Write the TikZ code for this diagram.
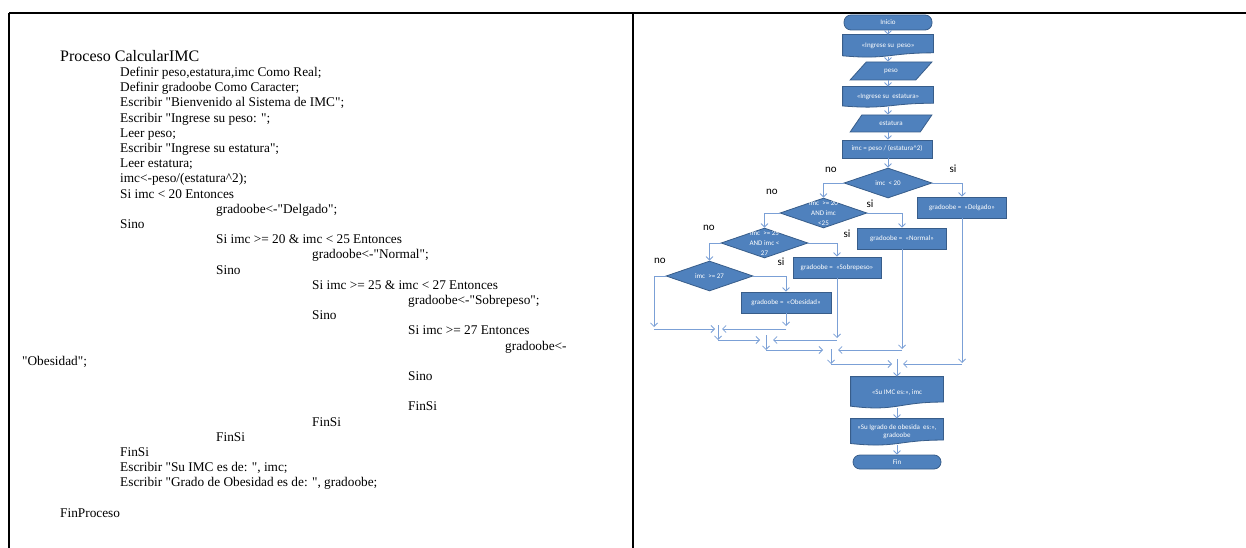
\documentclass[tikz,border=0pt]{standalone}
\usepackage{fontspec}
\setmainfont{Liberation Serif}
\newfontfamily\calibri{Carlito}
\usepackage{tikz}
\usetikzlibrary{arrows.meta,positioning,calc,shapes.geometric,backgrounds}
\definecolor{fcblue}{HTML}{4F81BD}
\definecolor{fcedge}{HTML}{385D8A}
\definecolor{fcline}{HTML}{7BA0D6}
\newcommand{\dq}{\textquotedbl}
% document symbol drawn behind a node
\newcommand{\docshape}[1]{%
  \filldraw[draw=fcedge, fill=fcblue, line width=0.8pt]
    (#1.north west) -- (#1.north east)
    -- ($(#1.north east)!0.80!(#1.south east)$)
    .. controls ($(#1.north)!0.80!(#1.south)$) and ($(#1.north)!1.11!(#1.south)$)
    .. ($(#1.north west)!0.93!(#1.south west)$) -- cycle;}

\begin{document}
\begin{tikzpicture}[x=1pt,y=-1pt,>={Straight Barb[length=3.5pt,width=7pt]},
  box/.style={draw=fcedge, fill=fcblue, line width=0.8pt, text=white,
    font=\calibri\fontsize{7}{8}\selectfont, align=center, inner sep=1pt,
    minimum width=90pt, minimum height=21pt},
  term/.style={box, rounded corners=7pt, minimum width=88pt, minimum height=15pt},
  docbox/.style={box, draw=none, fill=none},
  iobox/.style={box, trapezium, trapezium left angle=52, trapezium right angle=128,
    trapezium stretches=true, minimum width=82pt, minimum height=18pt},
  dec/.style={box, diamond, inner sep=0pt, minimum width=87pt, minimum height=30pt},
  dectext/.style={text=white, font=\calibri\fontsize{7}{10}\selectfont,
    align=center, inner sep=0pt},
  lab/.style={font=\calibri\fontsize{11}{12}\selectfont},
  code/.style={font=\fontsize{13.3}{15.2}\selectfont, align=left, inner sep=0pt},
  arr/.style={->, draw=fcline, line width=0.8pt},
  frame/.style={line width=1.6pt}]

\useasboundingbox (0,0) rectangle (1246,548);

% Table frame
\draw[frame] (9,13) -- (1246,13);
\draw[frame] (9,13) -- (9,548);
\draw[frame] (633,13) -- (633,548);

% Pseudocode
\node[code, anchor=north west] (pseudo) at (22,50) {%
\hspace*{38pt}{\fontsize{16}{15.2}\selectfont Proceso CalcularIMC}\\
\hspace*{98pt}Definir peso,estatura,imc Como Real;\\
\hspace*{98pt}Definir gradoobe Como Caracter;\\
\hspace*{98pt}Escribir \dq Bienvenido al Sistema de IMC\dq;\\
\hspace*{98pt}Escribir \dq Ingrese su peso: \dq;\\
\hspace*{98pt}Leer peso;\\
\hspace*{98pt}Escribir \dq Ingrese su estatura\dq;\\
\hspace*{98pt}Leer estatura;\\
\hspace*{98pt}imc<-peso/(estatura\textasciicircum 2);\\
\hspace*{98pt}Si imc < 20 Entonces\\
\hspace*{194pt}gradoobe<-\dq Delgado\dq;\\
\hspace*{98pt}Sino\\
\hspace*{194pt}Si imc >= 20 \& imc < 25 Entonces\\
\hspace*{290pt}gradoobe<-\dq Normal\dq;\\
\hspace*{194pt}Sino\\
\hspace*{290pt}Si imc >= 25 \& imc < 27 Entonces\\
\hspace*{386pt}gradoobe<-\dq Sobrepeso\dq;\\
\hspace*{290pt}Sino\\
\hspace*{386pt}Si imc >= 27 Entonces\\
\hspace*{483pt}gradoobe<-\\
\dq Obesidad\dq;\\
\hspace*{386pt}Sino\\[15.2pt]
\hspace*{386pt}FinSi\\
\hspace*{290pt}FinSi\\
\hspace*{194pt}FinSi\\
\hspace*{98pt}FinSi\\
\hspace*{98pt}Escribir \dq Su IMC es de: \dq, imc;\\
\hspace*{98pt}Escribir \dq Grado de Obesidad es de: \dq, gradoobe;\\[15.2pt]
\hspace*{38pt}FinProceso};

% Flowchart nodes
\node[term] (inicio) at (888,22.5) {Inicio};
\node[docbox, minimum height=22pt] (ingpeso) at (888,46) {«Ingrese su\ \ peso»};
\node[iobox] (peso) at (891,71) {peso};
\node[docbox, minimum height=20pt] (ingest) at (888,97) {«Ingrese su\ \ estatura»};
\node[iobox, minimum height=17pt] (est) at (891,123.5) {estatura};
\node[box, minimum height=18pt] (calc) at (887,149) {imc = peso / (estatura\textasciicircum 2)};

\node[dec, minimum width=88pt] (d1) at (888,183) {};
\node[dectext] (d1t) at (d1) {imc\ \ < 20};
\node[dec] (d2) at (823.5,213) {};
\node[dectext] (d2t) at (d2) {imc\ \ >= 20\\AND imc\\<25};
\node[dec] (d3) at (764.5,243) {};
\node[dectext] (d3t) at (d3) {imc\ \ >= 25\\AND imc <\\27};
\node[dec] (d4) at (709.5,276) {};
\node[dectext] (d4t) at (d4) {imc\ \ >= 27};

\node[box, minimum width=89pt] (delgado) at (962,207.5) {gradoobe =\ \ «Delgado»};
\node[box, minimum width=89pt] (normal) at (902,238.5) {gradoobe =\ \ «Normal»};
\node[box, minimum width=88pt] (sobre) at (837,267.5) {gradoobe =\ \ «Sobrepeso»};
\node[box, minimum width=90pt] (obes) at (786,302.5) {gradoobe =\ \ «Obesidad»};

\node[docbox, minimum width=92pt, minimum height=31pt] (suimc) at (897,392.5) {«Su IMC es:», imc};
\node[docbox, minimum width=92pt, minimum height=26pt] (grado) at (897,432) {«Su Igrado de obesida\ \ es:»,\\gradoobe};
\node[term, minimum height=14pt] (fin) at (897,462) {Fin};

% Branch labels
\node[lab] (no1) at (831,170) {no};
\node[lab] (si1) at (953,169) {si};
\node[lab] (no2) at (772,192) {no};
\node[lab] (si2) at (870,204) {si};
\node[lab] (no3) at (709,228) {no};
\node[lab] (si3) at (847,234) {si};
\node[lab] (no4) at (660,261) {no};
\node[lab] (si4) at (781,262) {si};

% Document symbols
\begin{scope}[on background layer]
\docshape{ingpeso}
\docshape{ingest}
\docshape{suimc}
\docshape{grado}
\end{scope}

% Merge points
\coordinate (m1l) at (654,329);
\coordinate (m1c) at (718,329);
\coordinate (m1r) at (786,329);
\coordinate (m2l) at (718,340);
\coordinate (m2c) at (766,340);
\coordinate (m2r) at (837,340);
\coordinate (m3l) at (766,350);
\coordinate (m3c) at (831,350);
\coordinate (m3r) at (902,350);
\coordinate (m4l) at (831,364);
\coordinate (m4c) at (897,364);
\coordinate (m4r) at (962,364);

% Main column
\draw[arr] (inicio) -- (ingpeso);
\draw[arr] (ingpeso) -- (ingpeso |- peso.north);
\draw[arr] (ingpeso |- peso.south) -- (ingest);
\draw[arr] (ingest) -- (ingest |- est.north);
\draw[arr] (ingest |- est.south) -- (calc.north -| ingest);
\draw[arr] (calc.south -| d1) -- (d1);

% Decisions
\draw[arr] (d1.east) -| (delgado.north);
\draw[arr] (d1.west) -| (d2.north);
\draw[arr] (d2.east) -| (normal.north);
\draw[arr] (d2.west) -| (d3.north);
\draw[arr] (d3.east) -| (sobre.north);
\draw[arr] (d3.west) -| (d4.north);
\draw[arr] (d4.east) -| (obes.north);
\draw[arr] (d4.west) -| ($(m1l)+(0,-2)$);

% Joins
\draw[arr] (obes) -- ($(m1r)+(0,-3)$);
\draw[arr] (m1l) -- ($(m1c)+(-3,0)$);
\draw[arr] (m1r) -- ($(m1c)+(4,0)$);
\draw[arr] ($(m1c)+(0,-4)$) -- (m2l);

\draw[arr] (sobre) -- ($(m2r)+(0,-2)$);
\draw[arr] (m2l) -- ($(m2c)+(-6,0)$);
\draw[arr] (m2r) -- ($(m2c)+(7,0)$);
\draw[arr] ($(m2c)+(0,-5)$) -- (m3l);

\draw[arr] (normal) -- ($(m3r)+(0,-1)$);
\draw[arr] (m3l) -- ($(m3c)+(-8,0)$);
\draw[arr] (m3r) -- ($(m3c)+(7,0)$);
\draw[arr] ($(m3c)+(0,-1)$) -- (m4l);

\draw[arr] (delgado) -- ($(m4r)+(0,-1)$);
\draw[arr] (m4l) -- ($(m4c)+(-5,0)$);
\draw[arr] (m4r) -- ($(m4c)+(6,0)$);
\draw[arr] ($(m4c)+(0,-5)$) -- (suimc);

\draw[arr] (suimc) -- (grado);
\draw[arr] (grado) -- (fin);

\end{tikzpicture}
\end{document}
